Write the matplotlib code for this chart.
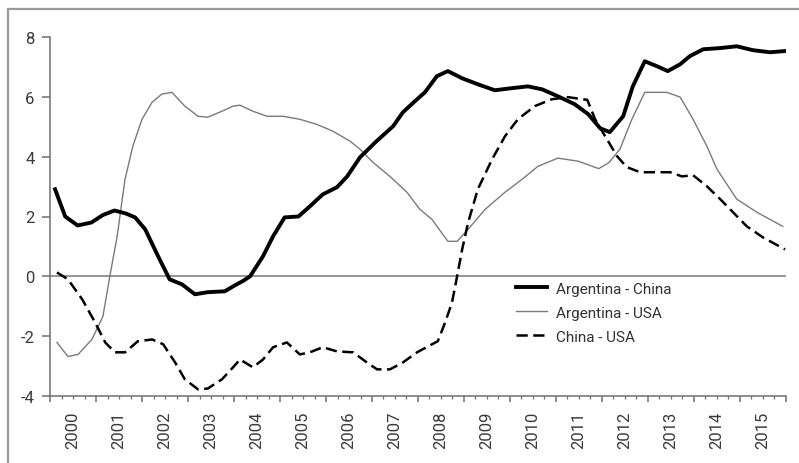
import matplotlib.pyplot as plt
from matplotlib.patches import Rectangle
from matplotlib.ticker import FixedLocator, FuncFormatter

plt.rcParams['font.family'] = ['Roboto', 'DejaVu Sans']
plt.rcParams['axes.unicode_minus'] = False

# Argentina - China (decimal year, value)
arg_chn_t = [2000.11, 2000.33, 2000.6, 2000.9, 2001.15, 2001.4, 2001.65, 2001.85, 2002.07,
             2002.35, 2002.6, 2002.87, 2003.15, 2003.43, 2003.8, 2004.02, 2004.2, 2004.35,
             2004.63, 2004.85, 2005.1, 2005.4, 2005.65, 2005.93, 2006.24, 2006.46, 2006.74,
             2007.1, 2007.46, 2007.67, 2007.93, 2008.15, 2008.41, 2008.65, 2008.96, 2009.3,
             2009.67, 2010.04, 2010.39, 2010.7, 2011.04, 2011.41, 2011.7, 2011.96, 2012.17,
             2012.46, 2012.67, 2012.93, 2013.2, 2013.43, 2013.7, 2013.91, 2014.2, 2014.57,
             2014.93, 2015.28, 2015.65, 2015.98]
arg_chn_v = [2.91, 2.0, 1.7, 1.8, 2.05, 2.2, 2.1, 1.97, 1.57,
             0.67, -0.1, -0.27, -0.6, -0.53, -0.5, -0.3, -0.15, 0.0,
             0.67, 1.34, 1.97, 2.0, 2.34, 2.74, 2.98, 3.34, 3.98,
             4.52, 5.02, 5.48, 5.85, 6.15, 6.69, 6.86, 6.62, 6.42,
             6.22, 6.29, 6.35, 6.25, 6.02, 5.75, 5.42, 4.95, 4.82,
             5.35, 6.35, 7.19, 7.02, 6.86, 7.09, 7.36, 7.59, 7.63,
             7.69, 7.56, 7.49, 7.53]

# Argentina - USA
arg_usa_t = [2000.15, 2000.39, 2000.61, 2000.91, 2001.15, 2001.3, 2001.46, 2001.63, 2001.8,
             2002.0, 2002.22, 2002.43, 2002.65, 2002.93, 2003.22, 2003.43, 2003.74, 2003.98,
             2004.13, 2004.41, 2004.72, 2005.07, 2005.43, 2005.8, 2006.15, 2006.52, 2006.74,
             2007.02, 2007.39, 2007.76, 2008.04, 2008.3, 2008.65, 2008.85, 2009.09, 2009.46,
             2009.89, 2010.26, 2010.61, 2011.04, 2011.48, 2011.93, 2012.15, 2012.39, 2012.65,
             2012.93, 2013.41, 2013.7, 2013.98, 2014.28, 2014.5, 2014.93, 2015.37, 2015.93]
arg_usa_v = [-2.21, -2.68, -2.61, -2.11, -1.34, 0.0, 1.34, 3.24, 4.35,
             5.25, 5.82, 6.09, 6.15, 5.69, 5.35, 5.32, 5.52, 5.69,
             5.72, 5.52, 5.35, 5.35, 5.25, 5.08, 4.85, 4.52, 4.25,
             3.81, 3.34, 2.81, 2.24, 1.91, 1.17, 1.17, 1.57, 2.24,
             2.81, 3.24, 3.68, 3.95, 3.85, 3.6, 3.8, 4.25, 5.25,
             6.15, 6.15, 5.99, 5.25, 4.35, 3.58, 2.58, 2.14, 1.67]

# China - USA
chn_usa_t = [2000.15, 2000.39, 2000.7, 2000.98, 2001.2, 2001.41, 2001.63, 2001.91, 2002.22,
             2002.46, 2002.72, 2002.93, 2003.22, 2003.43, 2003.74, 2003.98, 2004.13, 2004.41,
             2004.63, 2004.85, 2005.15, 2005.43, 2005.65, 2005.93, 2006.24, 2006.59, 2006.89,
             2007.11, 2007.39, 2007.67, 2007.98, 2008.22, 2008.43, 2008.59, 2008.74, 2008.85,
             2008.96, 2009.09, 2009.3, 2009.61, 2009.89, 2010.17, 2010.54, 2010.91, 2011.26,
             2011.58, 2011.68, 2011.85, 2012.07, 2012.33, 2012.54, 2012.83, 2013.2, 2013.48,
             2013.74, 2013.98, 2014.28, 2014.57, 2014.85, 2015.15, 2015.5, 2015.98]
chn_usa_v = [0.13, -0.1, -0.77, -1.54, -2.21, -2.54, -2.54, -2.17, -2.11,
             -2.27, -2.88, -3.44, -3.78, -3.75, -3.44, -3.04, -2.78, -3.04,
             -2.78, -2.37, -2.21, -2.61, -2.54, -2.37, -2.51, -2.54, -2.88,
             -3.11, -3.11, -2.88, -2.54, -2.34, -2.17, -1.54, -0.87, 0.0,
             0.9, 1.8, 2.91, 3.91, 4.68, 5.25, 5.69, 5.92, 5.99,
             5.92, 5.9, 5.25, 4.68, 4.01, 3.65, 3.48, 3.48, 3.48,
             3.34, 3.38, 3.01, 2.58, 2.14, 1.67, 1.3, 0.9]

years = list(range(2000, 2016))
labels = ['Argentina - China', 'Argentina - USA', 'China - USA']

fig = plt.figure(figsize=(7.99, 4.64), dpi=100)
ax = fig.add_axes([0.0626, 0.1444, 0.9211, 0.7737])

# outer frame (cut off at right and bottom)
fig.patches.append(Rectangle((0.010, -0.1), 1.2, 0.978 + 0.1, transform=fig.transFigure,
                             fill=False, edgecolor='#9a9a9a', linewidth=1.6))

ax.axhline(0, color='#777777', linewidth=1.1, zorder=1)
ax.plot(arg_chn_t, arg_chn_v, color='black', linewidth=2.8, label=labels[0],
        solid_joinstyle='round', zorder=4)
ax.plot(arg_usa_t, arg_usa_v, color='#7a7a7a', linewidth=1.0, label=labels[1], zorder=3)
ax.plot(chn_usa_t, chn_usa_v, color='black', linewidth=1.8, dashes=(4.5, 2.2),
        label=labels[2], zorder=3)

ax.set_xlim(2000, 2016)
ax.set_ylim(-4, 8)
ax.set_yticks(range(-4, 9, 2))

for s in ('top', 'right'):
    ax.spines[s].set_visible(False)
for s in ('left', 'bottom'):
    ax.spines[s].set_color('#6f6f6f')
    ax.spines[s].set_linewidth(1.1)

ax.tick_params(axis='y', direction='out', length=6, width=1.1, color='#6f6f6f',
               labelsize=12, labelcolor='#3a3a3a', pad=5)

# year boundaries as major ticks, quarters as minor, year labels at mid-year
ax.xaxis.set_major_locator(FixedLocator(list(range(2000, 2017))))
ax.xaxis.set_major_formatter(FuncFormatter(lambda v, p: ''))
quarters = [y + q / 4 for y in years for q in (1, 2, 3)]
ax.xaxis.set_minor_locator(FixedLocator(quarters))
ax.xaxis.set_minor_formatter(FuncFormatter(
    lambda v, p: str(int(v)) if abs(v - int(v) - 0.5) < 1e-6 else ''))
ax.tick_params(axis='x', which='major', direction='out', length=4, width=1.1, color='#6f6f6f')
ax.tick_params(axis='x', which='minor', direction='out', length=2.5, width=0.9, color='#6f6f6f',
               labelsize=12, labelcolor='#3a3a3a', labelrotation=90, pad=8)

ax.legend(loc='upper left', bbox_to_anchor=(0.625, 0.335), frameon=False, fontsize=11,
          handlelength=2.0, handletextpad=0.6, labelspacing=0.65, borderaxespad=0,
          labelcolor='#333333')

fig.savefig('out.png', dpi=100)
